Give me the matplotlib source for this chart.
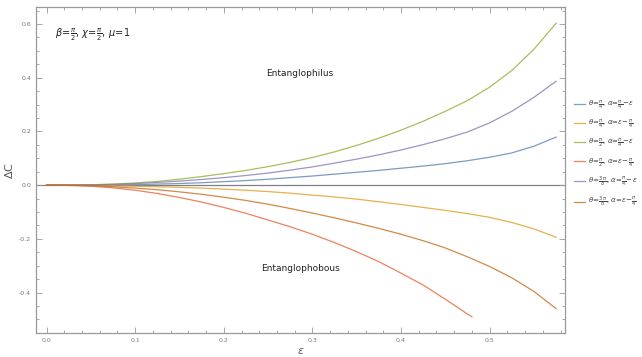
import matplotlib
matplotlib.use("Agg")
import matplotlib.pyplot as plt
from matplotlib.ticker import MultipleLocator

eps = [0.0, 0.025, 0.05, 0.075, 0.1, 0.125, 0.15, 0.175, 0.2, 0.225, 0.25, 0.275, 0.3,
       0.325, 0.35, 0.375, 0.4, 0.425, 0.45, 0.475, 0.5, 0.525, 0.55, 0.575]
eps_red = [0.0, 0.025, 0.05, 0.075, 0.1, 0.125, 0.15, 0.175, 0.2, 0.225, 0.25, 0.275, 0.3,
           0.325, 0.35, 0.375, 0.4, 0.425, 0.45, 0.475, 0.48]

blue = [0.0, 0.0, 0.0, 0.001, 0.002, 0.004, 0.006, 0.009, 0.013, 0.017, 0.022, 0.028, 0.034,
        0.041, 0.048, 0.055, 0.063, 0.071, 0.08, 0.091, 0.104, 0.12, 0.145, 0.179]
orange = [0.0, 0.0, -0.001, -0.002, -0.004, -0.006, -0.008, -0.011, -0.015, -0.019, -0.024,
          -0.03, -0.037, -0.044, -0.052, -0.062, -0.072, -0.083, -0.094, -0.106, -0.12,
          -0.139, -0.163, -0.194]
green = [0.0, 0.0002, 0.0015, 0.004, 0.008, 0.014, 0.022, 0.032, 0.043, 0.055, 0.069, 0.085,
         0.103, 0.124, 0.148, 0.175, 0.205, 0.238, 0.275, 0.315, 0.365, 0.427, 0.506, 0.603]
red = [0.0, -0.001, -0.004, -0.01, -0.019, -0.031, -0.046, -0.063, -0.083, -0.105, -0.13,
       -0.155, -0.183, -0.214, -0.248, -0.285, -0.328, -0.372, -0.425, -0.48, -0.49]
purple = [0.0, 0.0, 0.001, 0.003, 0.006, 0.01, 0.015, 0.021, 0.028, 0.036, 0.045, 0.056,
          0.068, 0.082, 0.097, 0.113, 0.131, 0.151, 0.173, 0.198, 0.232, 0.275, 0.327, 0.387]
brown = [0.0, 0.0, -0.002, -0.006, -0.011, -0.017, -0.025, -0.034, -0.045, -0.057, -0.071,
         -0.087, -0.104, -0.122, -0.141, -0.161, -0.183, -0.207, -0.234, -0.267, -0.303,
         -0.345, -0.396, -0.46]

labels = [
    r'$\theta\!=\!\frac{\pi}{4}$, $\alpha\!=\!\frac{\pi}{4}\!-\!\epsilon$',
    r'$\theta\!=\!\frac{\pi}{4}$, $\alpha\!=\!\epsilon\!-\!\frac{\pi}{4}$',
    r'$\theta\!=\!\frac{\pi}{2}$, $\alpha\!=\!\frac{\pi}{4}\!-\!\epsilon$',
    r'$\theta\!=\!\frac{\pi}{2}$, $\alpha\!=\!\epsilon\!-\!\frac{\pi}{4}$',
    r'$\theta\!=\!\frac{3\,\pi}{8}$, $\alpha\!=\!\frac{\pi}{4}\!-\!\epsilon$',
    r'$\theta\!=\!\frac{3\,\pi}{8}$, $\alpha\!=\!\epsilon\!-\!\frac{\pi}{4}$',
]
colors = ['#5E81B5', '#E19C24', '#8FB032', '#EB6235', '#8778B3', '#C56E1A']

fig = plt.figure(figsize=(6.42, 3.57), dpi=100)
ax = fig.add_axes([0.056, 0.067, 0.824, 0.913])

series = [(eps, blue), (eps, orange), (eps, green), (eps_red, red), (eps, purple), (eps, brown)]
for (xs, ys), c, lab in zip(series, colors, labels):
    ax.plot(xs, ys, color=c, lw=0.9, alpha=0.8, label=lab, solid_joinstyle='round')

ax.axhline(0, color='#808080', lw=0.9, zorder=0)
ax.set_xlim(-0.012, 0.585)
ax.set_ylim(-0.551, 0.663)

ax.xaxis.set_major_locator(MultipleLocator(0.1))
ax.xaxis.set_minor_locator(MultipleLocator(0.02))
ax.yaxis.set_major_locator(MultipleLocator(0.2))
ax.yaxis.set_minor_locator(MultipleLocator(0.05))
ax.tick_params(which='both', direction='in', top=True, right=True, colors='#999999',
               labelcolor='#777777', labelsize=4.5, width=0.6)
ax.tick_params(which='major', length=4)
ax.tick_params(which='minor', length=2)
ax.set_xticks([0.0, 0.1, 0.2, 0.3, 0.4, 0.5])
ax.set_xticklabels(['0.0', '0.1', '0.2', '0.3', '0.4', '0.5'])
ax.set_yticks([-0.4, -0.2, 0.0, 0.2, 0.4, 0.6])
ax.set_yticklabels(['-0.4', '-0.2', '0.0', '0.2', '0.4', '0.6'])
for s in ax.spines.values():
    s.set_color('#999999')
    s.set_linewidth(0.9)

ax.set_xlabel(r'$\epsilon$', fontsize=8, color='#555555', labelpad=2)
ax.set_ylabel(r'$\Delta$C', fontsize=8, color='#555555', labelpad=3)

ax.text(0.01, 0.56, r'$\beta\!=\!\frac{\pi}{2}$, $\chi\!=\!\frac{\pi}{2}$, $\mu\!=\!1$',
        fontsize=7, color='#222222', va='center', ha='left')
ax.text(0.286, 0.417, 'Entanglophilus', fontsize=6.5, color='#222222', ha='center', va='center')
ax.text(0.286, -0.31, 'Entanglophobous', fontsize=6.5, color='#222222', ha='center', va='center')

leg = ax.legend(loc='center left', bbox_to_anchor=(1.005, 0.55), frameon=False,
                fontsize=5, handlelength=1.6, handletextpad=0.5, labelspacing=0.9,
                labelcolor='#444444')

fig.savefig('out.png', dpi=100)
